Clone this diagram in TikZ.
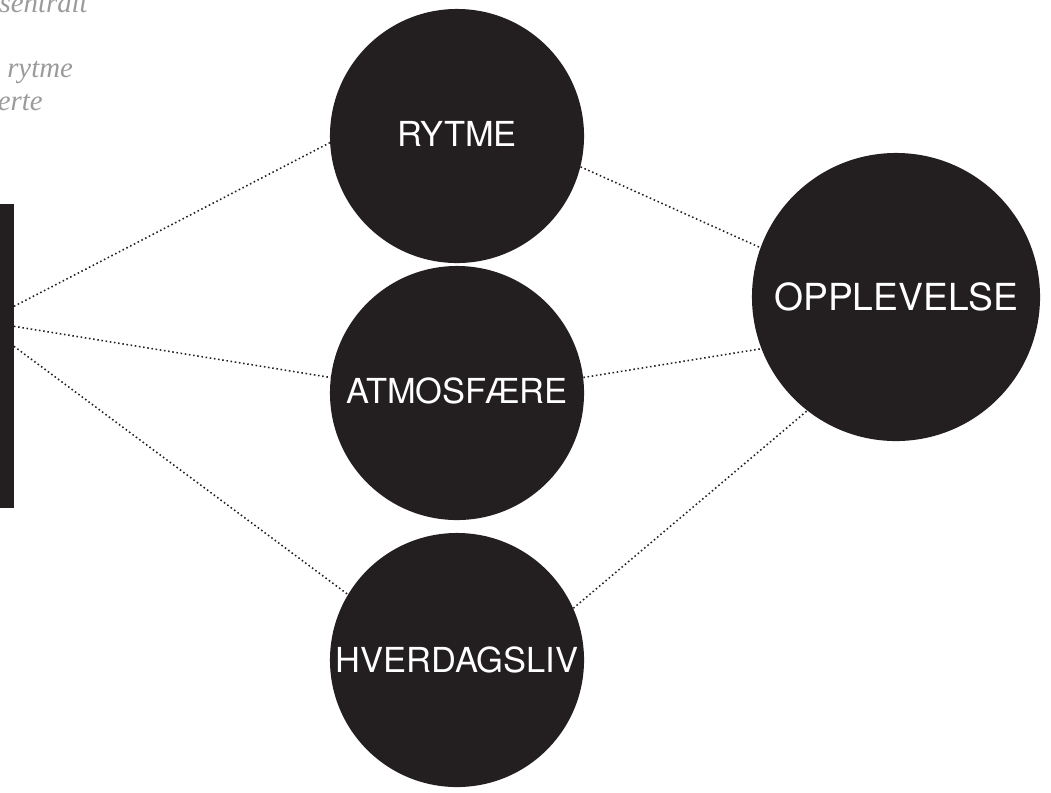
\documentclass[tikz,border=0pt]{standalone}
\usepackage{fontspec}
\setmainfont{Liberation Serif}
\setsansfont{TeX Gyre Heros}
\usetikzlibrary{calc}
\definecolor{ink}{HTML}{231F20}
\definecolor{notegray}{HTML}{9B9B9B}

\begin{document}
\begin{tikzpicture}[x=0.025cm,y=-0.025cm,
  ball/.style={circle,fill=ink,inner sep=0pt,minimum size=6.35cm,text=white,
    font=\sffamily\fontsize{24.5}{28}\selectfont},
  bigball/.style={ball,minimum size=7.2cm,font=\sffamily\fontsize{26.5}{30}\selectfont},
  link/.style={ink,line width=1.1pt,dash pattern=on 1.1pt off 1.9pt},
  note/.style={inner sep=0pt,text=notegray,font=\itshape\fontsize{20.5}{24}\selectfont}]
  \useasboundingbox (0,0) rectangle (1051,792);
  \clip (0,0) rectangle (1051,792);

  % text cut off at the left
  \node[note,anchor=base east] (n1) at (88,12) {sentralt};
  \node[note,anchor=base west] (n2) at (7,77) {rytme};
  \node[note,anchor=base east] (n3) at (43,110) {ierte};

  \node[fill=ink,inner sep=0pt,minimum width=0.6cm,minimum height=7.6cm,anchor=north east] (bar) at (14,204) {};

  \node[ball,text depth=0.12cm] (rytme) at (457,136) {RYTME};
  \node[ball,text depth=0.12cm] (atmos) at (457,393) {ATMOSFÆRE};
  \node[ball] (hverdag) at (457,660) {HVERDAGSLIV};
  \node[bigball] (oppl) at (896,297) {OPPLEVELSE};

  \draw[link] ($(bar.east)+(0,-50)$) -- (rytme.183);
  \draw[link] ($(bar.east)+(0,-30)$) -- (atmos.173);
  \draw[link] ($(bar.east)+(0,-10)$) -- (hverdag.149);
  \draw[link] (rytme.346) -- (oppl.160);
  \draw[link] (atmos.7) -- (oppl.201);
  \draw[link] (hverdag.24) -- (oppl.232);
\end{tikzpicture}
\end{document}
